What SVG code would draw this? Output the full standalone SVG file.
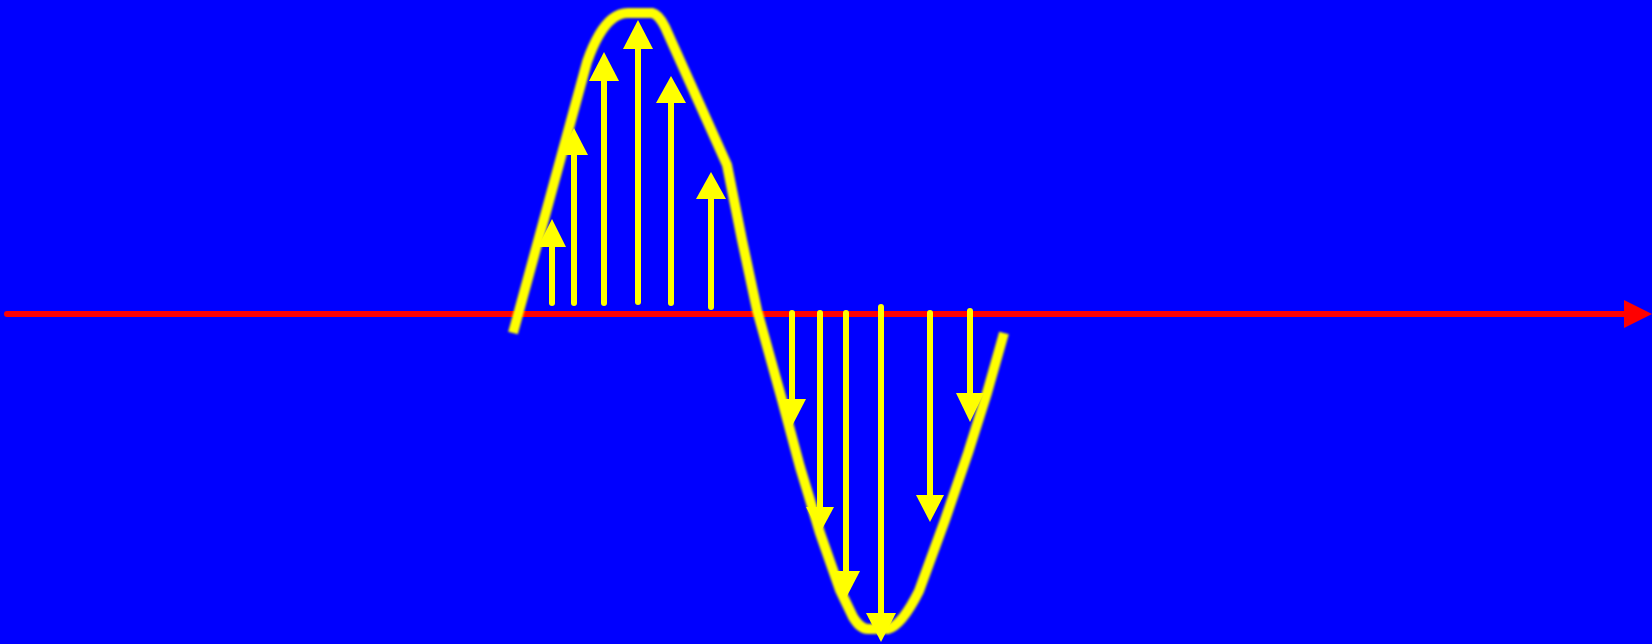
<svg xmlns="http://www.w3.org/2000/svg" width="1652" height="644" viewBox="0 0 1652 644">
<defs>
<style>
.shaft{stroke:#ffff00;stroke-width:6;stroke-linecap:round;fill:none}
.head{fill:#ffff00}
.wave{stroke:#ffff00;stroke-width:10;fill:none;stroke-linejoin:round;stroke-linecap:butt}
</style>
<filter id="soft" x="-5%" y="-5%" width="110%" height="110%"><feGaussianBlur stdDeviation="1.2"/></filter>
</defs>
<rect width="1652" height="644" fill="#0000ff"/>
<g id="axis">
<line x1="7" y1="314" x2="1626" y2="314" stroke="#ff0000" stroke-width="6" stroke-linecap="round"/>
<polygon points="1624,300 1652,314 1624,328" fill="#ff0000"/>
</g>
<g id="wave">
<path class="wave" filter="url(#soft)" d="M513,333 L587,62 C594,42 602,27 612,19 C617,15 621,13 628,13 L652,13 C657,14 661,19 665,27 L727,165 L742,240 L757,310 L782,400 L800,467 L820,533 L840,590 L853,617 C858,625 862,629 868,629 L888,629 C899,626 909,611 919,591 L945,520 L968,453 L987,393 L1004,333"/>
</g>
<g id="connectors">
<g id="up1"><line class="shaft" x1="552" y1="303" x2="552" y2="247"/><polygon class="head" points="538,247 552,219 566,247"/></g>
<g id="up2"><line class="shaft" x1="574" y1="303" x2="574" y2="155"/><polygon class="head" points="560,155 574,128 588,155"/></g>
<g id="up3"><line class="shaft" x1="604" y1="303" x2="604" y2="81"/><polygon class="head" points="589,81 604,52 619,81"/></g>
<g id="up4"><line class="shaft" x1="638" y1="302" x2="638" y2="49"/><polygon class="head" points="623,49 638,20 653,49"/></g>
<g id="up5"><line class="shaft" x1="671" y1="303" x2="671" y2="103"/><polygon class="head" points="656,103 671,76 686,103"/></g>
<g id="up6"><line class="shaft" x1="711" y1="307" x2="711" y2="199"/><polygon class="head" points="696,199 711,172 726,199"/></g>
<g id="down1"><line class="shaft" x1="792" y1="313" x2="792" y2="399"/><polygon class="head" points="778,399 792,426 806,399"/></g>
<g id="down2"><line class="shaft" x1="820" y1="313" x2="820" y2="507"/><polygon class="head" points="806,507 820,533 834,507"/></g>
<g id="down3"><line class="shaft" x1="846" y1="313" x2="846" y2="571"/><polygon class="head" points="832,571 846,598 860,571"/></g>
<g id="down4"><line class="shaft" x1="881" y1="307" x2="881" y2="613"/><polygon class="head" points="866,613 881,642 896,613"/></g>
<g id="down5"><line class="shaft" x1="930" y1="313" x2="930" y2="495"/><polygon class="head" points="916,495 930,522 944,495"/></g>
<g id="down6"><line class="shaft" x1="970" y1="311" x2="970" y2="393"/><polygon class="head" points="956,393 970,422 984,393"/></g>
</g>
</svg>
